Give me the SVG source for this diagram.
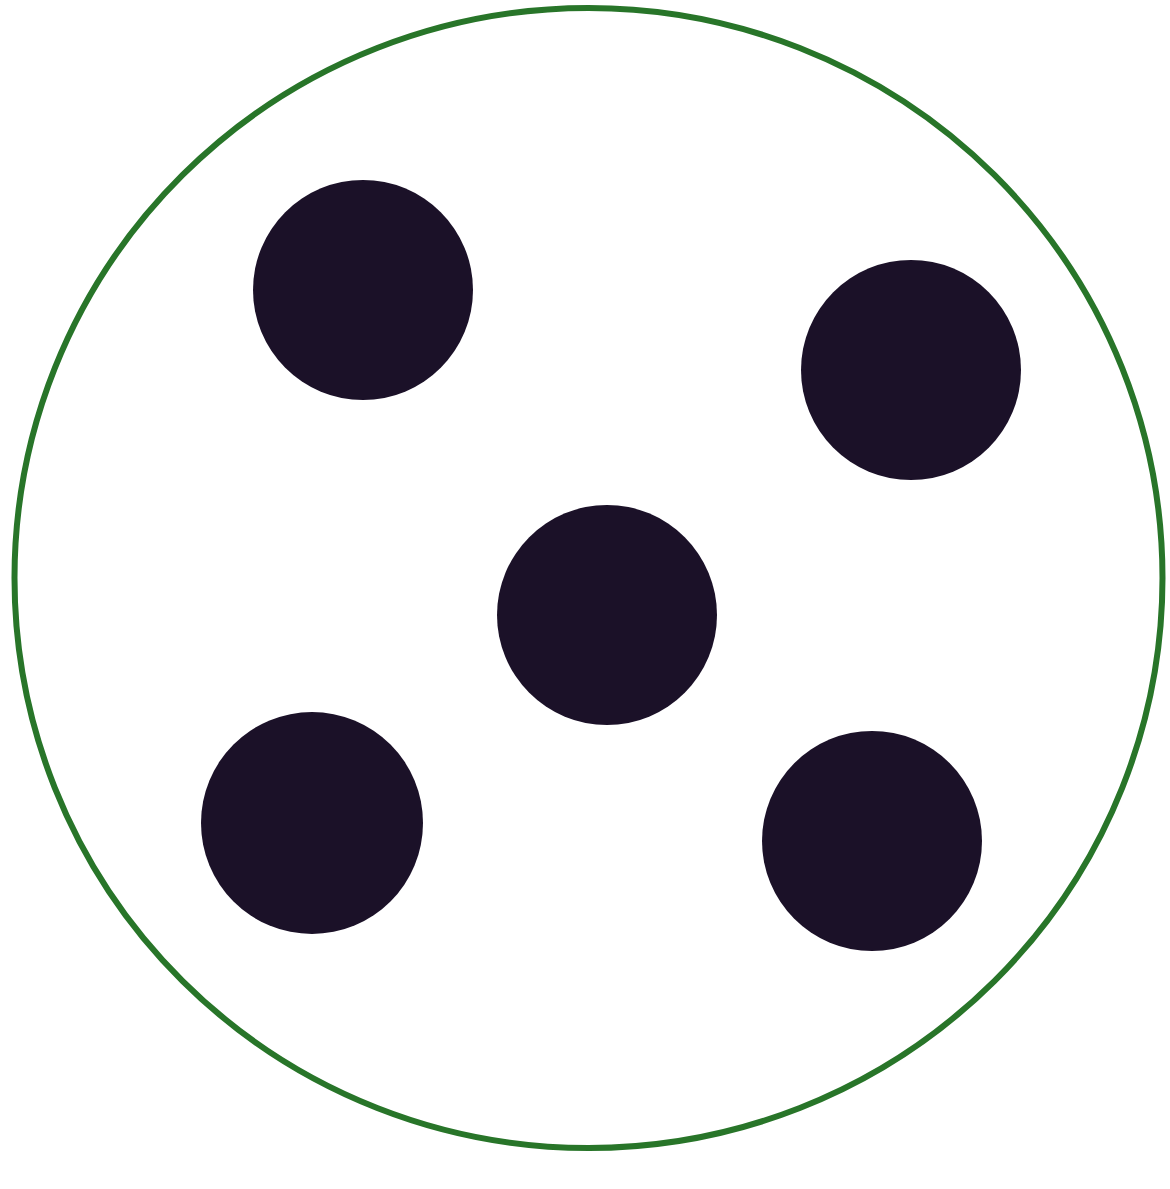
<svg xmlns="http://www.w3.org/2000/svg" width="1170" height="1189" viewBox="0 0 1170 1189">
<style>
.dot{fill:#1b1128;}
.ring{fill:#ffffff;stroke:#287529;stroke-width:6;}
</style>
<rect width="1170" height="1189" fill="#ffffff"/>
<g id="outer"><ellipse class="ring" cx="588.5" cy="578" rx="574" ry="570"/></g>
<g id="dot1"><circle class="dot" cx="363" cy="290" r="110"/></g>
<g id="dot2"><circle class="dot" cx="911" cy="370" r="110"/></g>
<g id="dot3"><circle class="dot" cx="607" cy="615" r="110"/></g>
<g id="dot4"><circle class="dot" cx="312" cy="823" r="111"/></g>
<g id="dot5"><circle class="dot" cx="872" cy="841" r="110"/></g>
<g id="connectors"></g>
</svg>
